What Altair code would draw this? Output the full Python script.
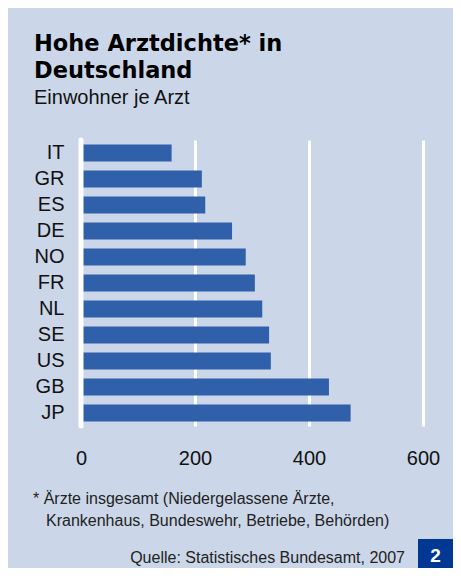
import altair as alt
import pandas as pd

countries = ["IT", "GR", "ES", "DE", "NO", "FR", "NL", "SE", "US", "GB", "JP"]
values = [159, 212, 218, 265, 289, 305, 318, 330, 333, 435, 473]
x_ticks = [0, 200, 400, 600]

title_lines = ["Hohe Arztdichte* in", "Deutschland"]
subtitle = "Einwohner je Arzt"
footnote_lines = ["* Ärzte insgesamt (Niedergelassene Ärzte,",
                  "Krankenhaus, Bundeswehr, Betriebe, Behörden)"]
source = "Quelle: Statistisches Bundesamt, 2007"
badge = "2"

BG = "#cbd7e9"
BAR = "#3160ab"
BOX = "#003893"
FONT = "Liberation Sans"

df = pd.DataFrame({"country": countries, "value": values})

# plot origin on page is approx (81, 140)
OX, OY = 81, 140

base = alt.Chart(df)

bars = base.mark_bar(color=BAR).encode(
    x=alt.X("value:Q",
            scale=alt.Scale(domain=[0, 600], nice=False),
            axis=alt.Axis(values=x_ticks, grid=True, gridColor="white", gridWidth=3,
                          gridOpacity=1, domain=False, ticks=False, tickSize=0,
                          labelPadding=22, labelFontSize=20, labelFont=FONT,
                          labelColor="#111111", labelFlush=False, title=None)),
    y=alt.Y("country:N", sort=countries,
            scale=alt.Scale(paddingInner=0.346, paddingOuter=0.173),
            axis=alt.Axis(domain=False, ticks=False, tickSize=0, labelPadding=17,
                          labelFontSize=20, labelFont=FONT, labelColor="#111111",
                          title=None, grid=False)),
)

zero = alt.Chart(pd.DataFrame({"v": [0]})).mark_rule(
    color="white", strokeWidth=5, strokeCap="round"
).encode(x=alt.X("v:Q"), y=alt.value(0), y2=alt.value(286))


def txt(text, x, y, size, weight="normal", font=FONT, color="#111111", align="left",
        line_height=None):
    kw = dict(align=align, baseline="alphabetic", fontSize=size, fontWeight=weight,
              font=font, color=color, text=text)
    if line_height:
        kw["lineHeight"] = line_height
    return alt.Chart(pd.DataFrame({"k": [0]})).mark_text(**kw).encode(
        x=alt.value(x - OX), y=alt.value(y - OY)
    )


title = txt(title_lines, 34, 51, 22.5, weight="bold", font="DejaVu Sans",
            color="#000000", line_height=27)
sub = txt(subtitle, 34, 104, 20)
foot1 = txt(footnote_lines[0], 33, 504, 16, color="#222222")
foot2 = txt(footnote_lines[1], 46, 526, 16, color="#222222")
src = txt(source, 405, 563, 16, color="#222222", align="right")

box = alt.Chart(pd.DataFrame({"b": [badge]})).mark_rect(color=BOX).encode(
    x=alt.value(418 - OX), x2=alt.value(470 - OX),
    y=alt.value(539 - OY), y2=alt.value(590 - OY)
)
badge_t = txt(badge, 435.5, 562, 19, weight="bold", color="white", align="center")

chart = alt.layer(bars, zero, title, sub, foot1, foot2, src, box, badge_t).properties(
    width=342, height=286,
    padding={"left": 73, "top": 132, "right": 30, "bottom": 142},
    autosize=alt.AutoSizeParams(type="none"),
    background=BG,
).configure_view(stroke=None)

chart.save("out.html", embed_options={"renderer": "svg", "actions": False})
